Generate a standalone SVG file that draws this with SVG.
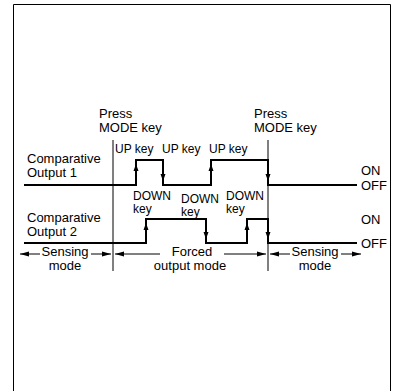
<svg xmlns="http://www.w3.org/2000/svg" width="396" height="391" viewBox="0 0 396 391">
<style>
text{font-family:"Liberation Sans",Arial,sans-serif;font-size:13px;fill:#000}
.k{font-size:12px}
.sig{fill:none;stroke:#000;stroke-width:2}
.thin{fill:none;stroke:#000;stroke-width:1}
</style>
<defs>
<path id="ah" d="M0,0 L-2.5,7 L2.5,7 Z" fill="#000"/>
<marker id="arr" markerWidth="10" markerHeight="6" refX="9" refY="3" orient="auto" markerUnits="userSpaceOnUse">
<path d="M0,0.5 L9,3 L0,5.5 Z" fill="#000"/>
</marker>
</defs>
<rect width="396" height="391" fill="#fff"/>
<path class="thin" d="M13.5,391 V4.5 H390.5 V391" stroke-width="1.2"/>

<g id="labels-left">
<text x="27" y="163">Comparative</text>
<text x="27" y="177">Output 1</text>
<text x="27" y="222">Comparative</text>
<text x="27" y="236">Output 2</text>
</g>
<g id="press1">
<text x="99" y="118">Press</text>
<text x="99" y="132">MODE key</text>
</g>
<g id="press2">
<text x="254" y="118">Press</text>
<text x="254" y="132">MODE key</text>
</g>
<g id="keys">
<text class="k" x="115" y="153">UP key</text>
<text class="k" x="162" y="153">UP key</text>
<text class="k" x="209" y="153">UP key</text>
<text class="k" x="133" y="200">DOWN</text>
<text class="k" x="133" y="213">key</text>
<text class="k" x="181" y="203">DOWN</text>
<text class="k" x="181" y="216">key</text>
<text class="k" x="226" y="200">DOWN</text>
<text class="k" x="226" y="213">key</text>
</g>
<g id="states">
<text x="361" y="175">ON</text>
<text x="361" y="190">OFF</text>
<text x="361" y="224">ON</text>
<text x="361" y="248">OFF</text>
</g>
<g id="modes">
<text x="65" y="256" text-anchor="middle">Sensing</text>
<text x="65" y="270" text-anchor="middle">mode</text>
<text x="192" y="256" text-anchor="middle">Forced</text>
<text x="190" y="270" text-anchor="middle">output mode</text>
<text x="315" y="256" text-anchor="middle">Sensing</text>
<text x="315" y="270" text-anchor="middle">mode</text>
</g>

<g id="connectors">
<path class="thin" d="M113,140 V271 M268,140 V271"/>
<path class="sig" d="M24,185 H136 V160 H163 V185 H211 V160 H268 V185 H357"/>
<path class="sig" d="M24,243 H146 V219 H206 V243 H247 V219 H268 V243 H357"/>
<use href="#ah" x="136" y="164"/>
<use href="#ah" transform="translate(163,181) rotate(180)"/>
<use href="#ah" x="211" y="164"/>
<use href="#ah" transform="translate(268,181) rotate(180)"/>
<use href="#ah" x="146" y="223"/>
<use href="#ah" transform="translate(206,239) rotate(180)"/>
<use href="#ah" x="247" y="223"/>
<use href="#ah" transform="translate(268,239) rotate(180)"/>
<g class="thin" marker-end="url(#arr)">
<line x1="40" y1="254" x2="20" y2="254"/>
<line x1="91" y1="254" x2="111" y2="254"/>
<line x1="160" y1="254" x2="115" y2="254"/>
<line x1="224" y1="254" x2="266" y2="254"/>
<line x1="290" y1="254" x2="270" y2="254"/>
<line x1="341" y1="254" x2="361" y2="254"/>
</g>
</g>
</svg>
